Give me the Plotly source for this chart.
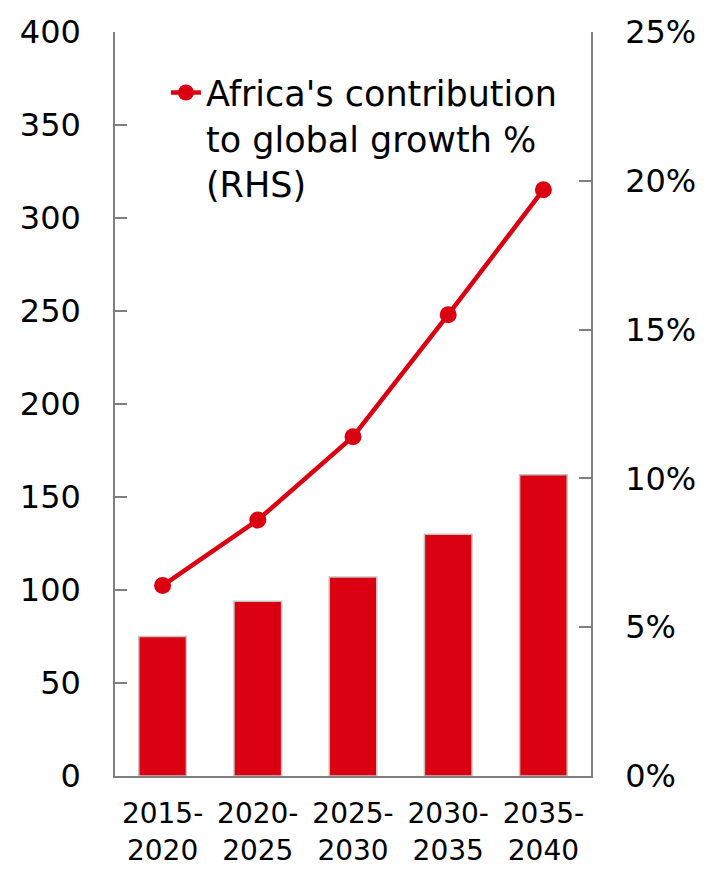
import plotly.graph_objects as go

categories = ["2015-<br>2020", "2020-<br>2025", "2025-<br>2030", "2030-<br>2035", "2035-<br>2040"]
bar_values = [75, 94, 107, 130, 162]
line_values = [6.4, 8.6, 11.4, 15.5, 19.7]
line_name = "Africa's contribution<br>to global growth %<br>(RHS)"
left_ticks = [0, 50, 100, 150, 200, 250, 300, 350, 400]
right_ticks = [0, 5, 10, 15, 20, 25]
right_ticktext = ["0%", "5%", "10%", "15%", "20%", "25%"]

RED = "#DB0011"
AXIS = "#7f7f7f"
FONT = "DejaVu Sans"

fig = go.Figure()
fig.add_trace(go.Bar(
    x=categories, y=bar_values, name="bars", showlegend=False,
    marker=dict(color=RED, line=dict(color="#c4c4c4", width=1.5)),
    yaxis="y",
))
fig.add_trace(go.Scatter(
    x=categories, y=line_values, name=line_name, mode="lines+markers",
    line=dict(color=RED, width=4.5), marker=dict(color=RED, size=17),
    yaxis="y2",
))

fig.update_layout(
    width=704, height=869,
    margin=dict(l=107, r=121, t=24, b=101),
    paper_bgcolor="white", plot_bgcolor="white",
    font=dict(family=FONT, color="black"),
    bargap=0.5,
    showlegend=True,
    legend=dict(
        x=0.107, y=0.958, xanchor="left", yanchor="top",
        valign="top", font=dict(size=35, family=FONT, color="black"),
        bgcolor="rgba(0,0,0,0)", tracegroupgap=0,
    ),
    xaxis=dict(
        automargin=False,
        showline=True, linecolor=AXIS, linewidth=1.5,
        ticks="", tickfont=dict(size=28, family=FONT), ticklabelstandoff=12,
        showgrid=False, zeroline=False,
    ),
    yaxis=dict(
        automargin=False,
        range=[0, 400], tickvals=left_ticks,
        showline=True, linecolor=AXIS, linewidth=1.5,
        ticks="inside", ticklen=12, tickcolor=AXIS, tickwidth=1.5,
        tickfont=dict(size=32, family=FONT), ticklabelstandoff=26,
        showgrid=False, zeroline=False,
    ),
    yaxis2=dict(
        automargin=False,
        range=[0, 25], tickvals=right_ticks, ticktext=right_ticktext,
        overlaying="y", side="right",
        showline=True, linecolor=AXIS, linewidth=1.5,
        ticks="inside", ticklen=12, tickcolor=AXIS, tickwidth=1.5,
        tickfont=dict(size=32, family=FONT), ticklabelstandoff=26,
        showgrid=False, zeroline=False,
    ),
)

fig.write_html("out.html")
